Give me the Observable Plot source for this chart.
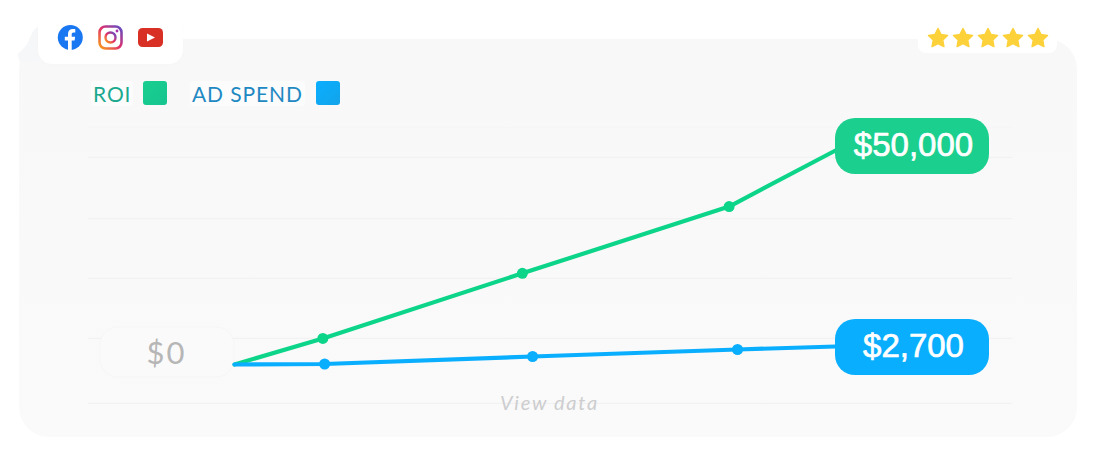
<!DOCTYPE html>
<html><head><meta charset="utf-8">
<script src="https://cdn.jsdelivr.net/npm/d3@7"></script>
<script src="https://cdn.jsdelivr.net/npm/@observablehq/plot@0.6"></script>
<style>
html,body{margin:0;padding:0;background:#fff;overflow:hidden}
#stage{position:relative;width:1103px;height:457px;overflow:hidden}
#stage>*{position:absolute}
#panel{left:19px;top:39px;width:1058px;height:398px;border-radius:30px;background:linear-gradient(#f8f8f9,#fafafa)}
#notch{left:0;top:0}
#social{left:38px;top:10px;width:145px;height:54px;border-radius:14px;background:#fff;box-shadow:0 2px 6px rgba(0,0,0,.012)}
#rating{left:918px;top:23px;width:139px;height:30px;border-radius:8px;background:#fff}
.lg{font:21px Lato,sans-serif;letter-spacing:.9px;top:81px;height:25px;line-height:25px;background:#fcfcfd;border-radius:4px;padding:0 2px}
.sw{top:81px;width:24px;height:24px;border-radius:3px}
#plot{left:0;top:0}
#plot svg{background:transparent!important;display:block}
</style></head><body>
<div id="stage">
<div id="panel"></div>
<svg id="notch" width="60" height="80"><path d="M40 27C34 27 32 33 29 40C27 46 22 50 17.500 54C18 57 19 58 19.500 62L40 62Z" fill="#f6f7f8"/></svg>
<div id="social"></div>
<svg id="icons" width="200" height="70" style="left:0;top:0">
<defs><linearGradient id="ig" x1="0" y1="1" x2="1" y2="0"><stop offset="0" stop-color="#f9a01b"/><stop offset=".5" stop-color="#e1306c"/><stop offset="1" stop-color="#5b4fc9"/></linearGradient></defs>
<circle cx="70.300" cy="37.500" r="12.500" fill="#1a77f2"/>
<path d="M68 50V40.500H64.800V36.800H68V34C68 30.800 70 29 72.800 29C74.100 29 75.300 29.200 75.300 29.200V32.400H73.700C72.100 32.400 71.700 33.300 71.700 34.300V36.800H75.100L74.600 40.500H71.700V50Z" fill="#fff"/>
<rect x="99.500" y="26.500" width="22" height="22" rx="6" fill="none" stroke="url(#ig)" stroke-width="2.600"/>
<circle cx="110.500" cy="37.500" r="5" fill="none" stroke="url(#ig)" stroke-width="2.400"/>
<circle cx="117" cy="31" r="1.400" fill="#a832a8"/>
<rect x="138" y="28" width="25" height="19" rx="4.500" fill="#d93025"/>
<path d="M147 33.500L155 37.500L147 41.500Z" fill="#fff"/>
</svg>
<div id="rating"></div>
<svg id="stars" width="140" height="30" style="left:918px;top:23px"></svg>
<div class="lg" style="left:91px;color:#1ba98e">ROI</div>
<div class="sw" style="left:143px;background:linear-gradient(135deg,#19cf8f,#16c48f)"></div>
<div class="lg" style="left:190px;color:#1f89c2">AD SPEND</div>
<div class="sw" style="left:316px;background:linear-gradient(135deg,#0aaeff,#12a4ea)"></div>
<div id="plot"></div>
</div>
<script>
// Values. x is progress along the campaign (0-100).
const roiX = [0, 14.7, 47.9, 82.3, 100];
const roiValues = [0, 6100, 21300, 36900, 50000];
const spendX = [0, 15, 49.6, 83.7, 100];
const spendValues = [0, 75, 1200, 2250, 2700];
// Ad spend runs on its own, magnified axis in the picture.
const spendAxisFactor = 1.557;
const gridValues = [48400, 34100, 20100, 6100, -9100];
const topGridValues = [55400];
const zeroLabel = "$0";
const roiLabel = "$50,000";
const spendLabel = "$2,700";
const viewLabel = "View data";
const roiColor = "#0cd58a", roiPill = "#1bcf8e", spendColor = "#0aaeff";

const roi = roiX.map((x, i) => ({x, y: roiValues[i]}));
const spend = spendX.map((x, i) => ({x, y: spendValues[i] * spendAxisFactor}));
const inner = a => a.slice(1, -1);
const endRoi = [roi[roi.length - 1]];
const endSpend = [spend[spend.length - 1]];
const pillR = {insetLeft: 0, insetRight: -154, insetTop: -28, insetBottom: -28, rx: 20};
const pillFont = {fontFamily: "Liberation Sans, Arial, sans-serif", fontSize: 33, fill: "#fff", stroke: "#fff", strokeWidth: 0.7};

const chart = Plot.plot({
  width: 1103, height: 457, margin: 0,
  style: {background: "transparent", overflow: "visible"},
  x: {type: "linear", domain: [0, 100], range: [234, 835], axis: null},
  y: {type: "linear", domain: [0, 50000], range: [364, 150], axis: null},
  marks: [
    Plot.ruleY(gridValues, {x1: -24.300, x2: 129.500, stroke: "#f2f2f3", strokeWidth: 1.200}),
    Plot.ruleY(topGridValues, {x1: -24.300, x2: 129.500, stroke: "#f5f5f6", strokeWidth: 1}),
    Plot.rect([0], {x1: 0, x2: 0, y1: 0, y2: 0, dy: -12, insetLeft: -134, insetRight: 0, insetTop: -25, insetBottom: -25, rx: 18, fill: "#fafafa", stroke: "#f6f6f6"}),
    Plot.text([zeroLabel], {x: 0, y: 0, dx: -68, dy: -10, text: d => d, fontFamily: "Lato, sans-serif", fontSize: 31, fill: "#b6b6b6"}),
    Plot.text([viewLabel], {x: 52.400, y: 0, dy: 39, text: d => d, fontFamily: "Lato, sans-serif", fontStyle: "italic", fontSize: 20, fill: "#cdcdcf"}),
    Plot.line(roi, {x: "x", y: "y", stroke: roiColor, strokeWidth: 4.200}),
    Plot.dot(inner(roi), {x: "x", y: "y", r: 5.500, fill: roiColor}),
    Plot.line(spend, {x: "x", y: "y", stroke: spendColor, strokeWidth: 4.200}),
    Plot.dot(inner(spend), {x: "x", y: "y", r: 5.500, fill: spendColor}),
    Plot.rect(endRoi, {x1: "x", x2: "x", y1: "y", y2: "y", dy: -4, ...pillR, fill: roiPill}),
    Plot.rect(endSpend, {x1: "x", x2: "x", y1: "y", y2: "y", dy: 1, ...pillR, fill: spendColor}),
    Plot.text(endRoi, {x: "x", y: "y", dx: 78, dy: -5, text: () => roiLabel, ...pillFont}),
    Plot.text(endSpend, {x: "x", y: "y", dx: 78, dy: 0, text: () => spendLabel, ...pillFont})
  ]
});
document.getElementById("plot").appendChild(chart);

// Plot.text has no letter-spacing option, so set it on the rendered labels.
const spacing = new Map([[zeroLabel, "2px"], [viewLabel, "1.700px"]]);
chart.querySelectorAll("text").forEach(t => {
  const s = spacing.get(t.textContent);
  if (s) t.style.letterSpacing = s;
});

// Decorative rating stars: five-point outline with fat arms and rounded tips
const starSvg = d3.select("#stars");
const starPoints = d3.range(10).map(i => {
  const r = i % 2 ? 5 : 10, a = i * Math.PI / 5;
  return [r * Math.sin(a), -r * Math.cos(a)];
});
const starPath = "M" + starPoints.join("L") + "Z";
d3.range(5).forEach(i => starSvg.append("path").attr("d", starPath)
  .attr("transform", `translate(${20 + i * 25},15.500)`).attr("fill", "#fdd13a")
  .attr("stroke", "#fdd13a").attr("stroke-width", 1.500).attr("stroke-linejoin", "round"));
</script>
</body></html>
